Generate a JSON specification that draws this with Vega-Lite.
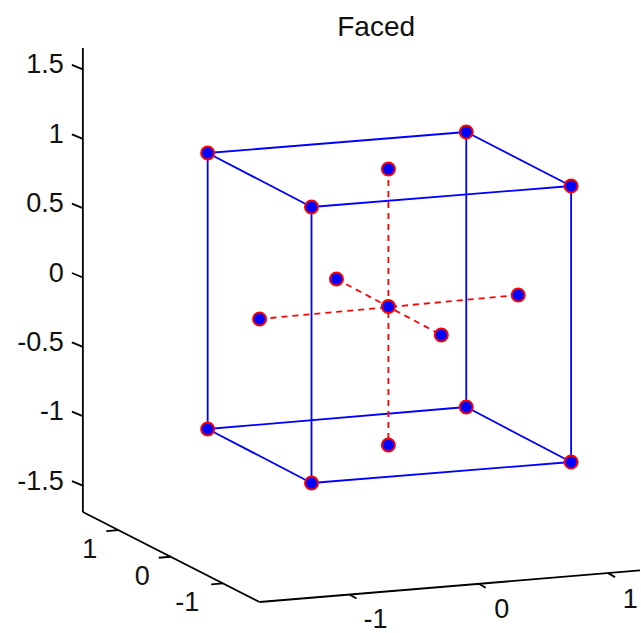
{
  "$schema": "https://vega.github.io/schema/vega-lite/v6.json",
  "width": 641,
  "height": 633,
  "padding": 0,
  "autosize": {"type": "fit", "contains": "padding"},
  "config": {"view": {"stroke": null}, "text": {"font": "Liberation Sans", "color": "#111111"}},
  "datasets": {
    "axes": [
      {"u1": 0, "v1": 1.6547, "u2": 0, "v2": -1.6907},
      {"u1": 0, "v1": -1.6907, "u2": 1.2761, "v2": -2.3396},
      {"u1": 1.2761, "v1": -2.3396, "u2": 4.0231, "v2": -2.1122},
      {"u1": 0, "v1": 1.5, "u2": -0.0793, "v2": 1.5324},
      {"u1": 0, "v1": 1.0, "u2": -0.0793, "v2": 1.0324},
      {"u1": 0, "v1": 0.5, "u2": -0.0793, "v2": 0.5324},
      {"u1": 0, "v1": 0.0, "u2": -0.0793, "v2": 0.0324},
      {"u1": 0, "v1": -0.5, "u2": -0.0793, "v2": -0.4676},
      {"u1": 0, "v1": -1.0, "u2": -0.0793, "v2": -0.9676},
      {"u1": 0, "v1": -1.5, "u2": -0.0793, "v2": -1.4676},
      {"u1": 0.2560, "v1": -1.8209, "u2": 0.1694, "v2": -1.8281},
      {"u1": 0.6345, "v1": -2.0133, "u2": 0.5479, "v2": -2.0205},
      {"u1": 1.0130, "v1": -2.2058, "u2": 0.9265, "v2": -2.2130},
      {"u1": 1.9250, "v1": -2.2859, "u2": 1.9755, "v2": -2.3147},
      {"u1": 2.8587, "v1": -2.2086, "u2": 2.9092, "v2": -2.2374},
      {"u1": 3.7924, "v1": -2.1313, "u2": 3.8429, "v2": -2.1601}
    ],
    "edges": [
      {"u1": 0.9012, "v1": 0.8976, "u2": 2.7686, "v2": 1.0490},
      {"u1": 2.7686, "v1": 1.0490, "u2": 3.5256, "v2": 0.6597},
      {"u1": 3.5256, "v1": 0.6597, "u2": 1.6511, "v2": 0.5083},
      {"u1": 1.6511, "v1": 0.5083, "u2": 0.9012, "v2": 0.8976},
      {"u1": 0.9012, "v1": -1.0923, "u2": 2.7686, "v2": -0.9337},
      {"u1": 2.7686, "v1": -0.9337, "u2": 3.5256, "v2": -1.3302},
      {"u1": 3.5256, "v1": -1.3302, "u2": 1.6511, "v2": -1.4816},
      {"u1": 1.6511, "v1": -1.4816, "u2": 0.9012, "v2": -1.0923},
      {"u1": 0.9012, "v1": 0.8976, "u2": 0.9012, "v2": -1.0923},
      {"u1": 2.7686, "v1": 1.0490, "u2": 2.7686, "v2": -0.9337},
      {"u1": 3.5256, "v1": 0.6597, "u2": 3.5256, "v2": -1.3302},
      {"u1": 1.6511, "v1": 0.5083, "u2": 1.6511, "v2": -1.4816}
    ],
    "star": [
      {"u1": 2.2062, "v1": 0.7823, "u2": 2.2062, "v2": -1.2076},
      {"u1": 1.2761, "v1": -0.2992, "u2": 3.1435, "v2": -0.1262},
      {"u1": 1.8313, "v1": -0.0108, "u2": 2.5883, "v2": -0.4146}
    ],
    "points": [
      {"u": 0.9012, "v": 0.8976}, {"u": 2.7686, "v": 1.0490}, {"u": 3.5256, "v": 0.6597}, {"u": 1.6511, "v": 0.5083},
      {"u": 0.9012, "v": -1.0923}, {"u": 2.7686, "v": -0.9337}, {"u": 3.5256, "v": -1.3302}, {"u": 1.6511, "v": -1.4816},
      {"u": 2.2062, "v": 0.7823}, {"u": 2.2062, "v": -1.2076}, {"u": 2.2062, "v": -0.2091},
      {"u": 1.2761, "v": -0.2992}, {"u": 3.1435, "v": -0.1262}, {"u": 1.8313, "v": -0.0108}, {"u": 2.5883, "v": -0.4146}
    ],
    "zlabels": [
      {"u": -0.137, "v": 1.471, "label": "1.5"},
      {"u": -0.137, "v": 0.971, "label": "1"},
      {"u": -0.137, "v": 0.471, "label": "0.5"},
      {"u": -0.137, "v": -0.029, "label": "0"},
      {"u": -0.137, "v": -0.529, "label": "-0.5"},
      {"u": -0.137, "v": -1.029, "label": "-1"},
      {"u": -0.137, "v": -1.529, "label": "-1.5"}
    ],
    "clabels": [
      {"u": 0.0505, "v": -2.0224, "label": "1"},
      {"u": 0.4290, "v": -2.2170, "label": "0"},
      {"u": 0.7534, "v": -2.4045, "label": "-1"},
      {"u": 2.1125, "v": -2.5270, "label": "-1"},
      {"u": 3.0245, "v": -2.4549, "label": "0"},
      {"u": 3.9524, "v": -2.3829, "label": "1"}
    ],
    "title": [
      {"u": 2.1175, "v": 1.7433, "label": "Faced"}
    ]
  },
  "layer": [
    {
      "data": {"name": "axes"},
      "mark": {"type": "rule", "color": "#000000", "strokeWidth": 1.8},
      "encoding": {
        "x": {"field": "u1", "type": "quantitative", "scale": {"domain": [-0.5984, 4.0231], "nice": false, "zero": false}, "axis": null},
        "y": {"field": "v1", "type": "quantitative", "scale": {"domain": [-2.5631, 2.0007], "nice": false, "zero": false}, "axis": null},
        "x2": {"field": "u2"},
        "y2": {"field": "v2"}
      }
    },
    {
      "data": {"name": "edges"},
      "mark": {"type": "rule", "color": "#0000ff", "strokeWidth": 1.8},
      "encoding": {
        "x": {"field": "u1", "type": "quantitative"},
        "y": {"field": "v1", "type": "quantitative"},
        "x2": {"field": "u2"},
        "y2": {"field": "v2"}
      }
    },
    {
      "data": {"name": "star"},
      "mark": {"type": "rule", "color": "#ff0000", "strokeWidth": 1.8, "strokeDash": [6, 5]},
      "encoding": {
        "x": {"field": "u1", "type": "quantitative"},
        "y": {"field": "v1", "type": "quantitative"},
        "x2": {"field": "u2"},
        "y2": {"field": "v2"}
      }
    },
    {
      "data": {"name": "points"},
      "mark": {"type": "point", "shape": "circle", "filled": true, "fill": "#0000ff", "fillOpacity": 1, "stroke": "#ff0000", "strokeWidth": 2, "strokeOpacity": 1, "opacity": 1, "size": 170},
      "encoding": {
        "x": {"field": "u", "type": "quantitative"},
        "y": {"field": "v", "type": "quantitative"}
      }
    },
    {
      "data": {"name": "zlabels"},
      "mark": {"type": "text", "align": "right", "baseline": "alphabetic", "fontSize": 27},
      "encoding": {
        "x": {"field": "u", "type": "quantitative"},
        "y": {"field": "v", "type": "quantitative"},
        "text": {"field": "label", "type": "nominal"}
      }
    },
    {
      "data": {"name": "clabels"},
      "mark": {"type": "text", "align": "center", "baseline": "alphabetic", "fontSize": 27},
      "encoding": {
        "x": {"field": "u", "type": "quantitative"},
        "y": {"field": "v", "type": "quantitative"},
        "text": {"field": "label", "type": "nominal"}
      }
    },
    {
      "data": {"name": "title"},
      "mark": {"type": "text", "align": "center", "baseline": "alphabetic", "fontSize": 28},
      "encoding": {
        "x": {"field": "u", "type": "quantitative"},
        "y": {"field": "v", "type": "quantitative"},
        "text": {"field": "label", "type": "nominal"}
      }
    }
  ]
}
